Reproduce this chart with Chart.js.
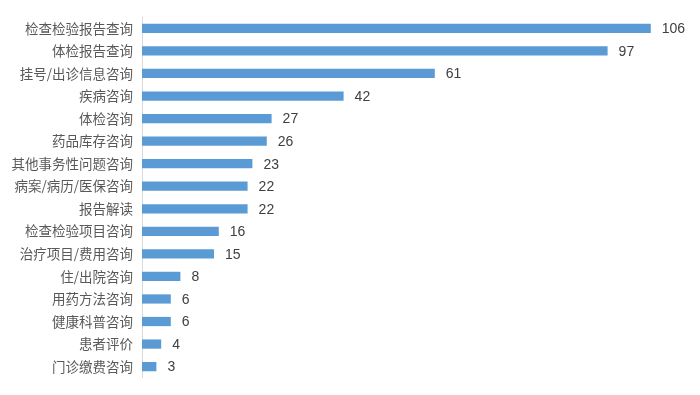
<!DOCTYPE html>
<html>
<head>
<meta charset="utf-8">
<script src="https://cdn.jsdelivr.net/npm/chart.js@4"></script>
<style>
  html, body { margin: 0; padding: 0; background: #fff; }
  #wrap { width: 700px; height: 395px; }
</style>
</head>
<body>
<div id="wrap"><canvas id="myChart"></canvas></div>
<script>
// categories and counts, top to bottom
const categories = [
  "检查检验报告查询", "体检报告查询", "挂号/出诊信息咨询", "疾病咨询",
  "体检咨询", "药品库存咨询", "其他事务性问题咨询", "病案/病历/医保咨询",
  "报告解读", "检查检验项目咨询", "治疗项目/费用咨询", "住/出院咨询",
  "用药方法咨询", "健康科普咨询", "患者评价", "门诊缴费咨询"
];
const counts = [106, 97, 61, 42, 27, 26, 23, 22, 22, 16, 15, 8, 6, 6, 4, 3];

// writes the number just right of each bar end
const valueLabels = {
  id: "valueLabels",
  afterDatasetsDraw(chart) {
    const ctx = chart.ctx;
    const meta = chart.getDatasetMeta(0);
    ctx.save();
    ctx.font = "14px 'Liberation Sans', sans-serif";
    ctx.fillStyle = "#404040";
    ctx.textAlign = "left";
    ctx.textBaseline = "middle";
    meta.data.forEach((bar, i) => {
      ctx.fillText(String(counts[i]), bar.x + 11, bar.y + 1);
    });
    ctx.restore();
  }
};

const ctx = document.getElementById("myChart");
const myChart = new Chart(ctx, {
  type: "bar",
  data: {
    labels: categories,
    datasets: [{
      data: counts,
      backgroundColor: "#5B9BD5",
      borderWidth: 0,
      categoryPercentage: 1,
      barPercentage: 0.41
    }]
  },
  options: {
    indexAxis: "y",
    responsive: true,
    maintainAspectRatio: false,
    animation: false,
    layout: { padding: { top: 11, bottom: 16, left: 0, right: 30 } },
    plugins: {
      legend: { display: false },
      tooltip: { enabled: false }
    },
    scales: {
      x: { display: false, min: 0, max: 110 },
      y: {
        afterFit: scale => { scale.width = 142; },
        grid: { display: false, drawTicks: false },
        border: { display: true, color: "#d9d9d9", width: 1 },
        ticks: {
          padding: 9,
          color: "#595959",
          font: { family: "'Noto Sans CJK SC', sans-serif", size: 13.5 }
        }
      }
    }
  },
  plugins: [valueLabels]
});
</script>
</body>
</html>
